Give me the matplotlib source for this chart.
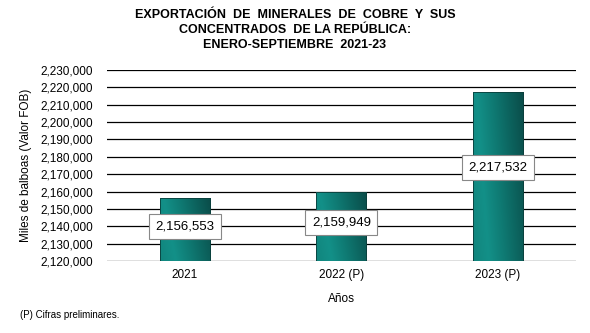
import numpy as np
import matplotlib.pyplot as plt
from matplotlib.colors import LinearSegmentedColormap
from matplotlib.ticker import FuncFormatter

# Data
years = ['2021', '2022 (P)', '2023 (P)']
values = [2156553, 2159949, 2217532]
title = ('EXPORTACIÓN  DE  MINERALES  DE  COBRE  Y  SUS\n'
         'CONCENTRADOS  DE LA REPÚBLICA:\n'
         'ENERO-SEPTIEMBRE  2021-23')

ymin, ymax = 2120000, 2230000

plt.rcParams['font.family'] = ['Liberation Sans', 'DejaVu Sans']

fig = plt.figure(figsize=(5.9, 3.33), dpi=100)
ax = fig.add_axes([0.181, 0.216, 0.795, 0.574])

x = np.arange(len(years))
bars = ax.bar(x, [v - ymin for v in values], bottom=ymin, width=0.32,
              color='none', edgecolor='#0a3d3a', linewidth=0.6, zorder=3)

# gradient fill for each bar
cmap = LinearSegmentedColormap.from_list(
    'teal', ['#11857d', '#139088', '#0f7a73', '#0c625d', '#0a4b48'])
gx = np.linspace(0, 1, 200)
gy = np.linspace(0, 1, 200)
GX, GY = np.meshgrid(gx, gy)
grad = np.clip(0.8 * GX + 0.2 * (1 - GY), 0, 1)
for b in bars:
    x0, y0 = b.get_x(), b.get_y()
    w, h = b.get_width(), b.get_height()
    im = ax.imshow(grad, cmap=cmap, extent=[x0, x0 + w, y0, y0 + h],
                   origin='upper', aspect='auto', zorder=2, vmin=0, vmax=1)
    im.set_clip_path(b)

for xi, v in zip(x, values):
    ax.text(xi, ymin + (v - ymin) * 0.55, f'{v:,}', ha='center', va='center',
            fontsize=9.5, zorder=5,
            bbox=dict(boxstyle='square,pad=0.5', fc='white', ec='#888888', lw=0.8))

ax.set_xlim(-0.5, 2.5)
ax.set_ylim(ymin, ymax)
ax.set_yticks(np.arange(ymin, ymax + 1, 10000))
ax.yaxis.set_major_formatter(FuncFormatter(lambda v, p: f'{int(v):,}'))
ax.set_xticks(x)
ax.set_xticklabels(years)
ax.tick_params(axis='both', length=0, labelsize=8.5, pad=6)
ax.tick_params(axis='y', pad=10)
ax.grid(axis='y', color='black', linewidth=0.9, zorder=1)
for s in ax.spines.values():
    s.set_visible(False)

ax.set_xlabel('Años', fontsize=8.5, labelpad=8)
ax.set_ylabel('Miles de balboas (Valor FOB)', fontsize=8.5, labelpad=6)

fig.text(0.5, 0.974, title, ha='center', va='top', fontsize=9, fontweight='bold',
         linespacing=1.35)
fig.text(0.034, 0.055, '(P) Cifras preliminares.', fontsize=7, ha='left', va='center')

fig.savefig('out.png', dpi=100)
